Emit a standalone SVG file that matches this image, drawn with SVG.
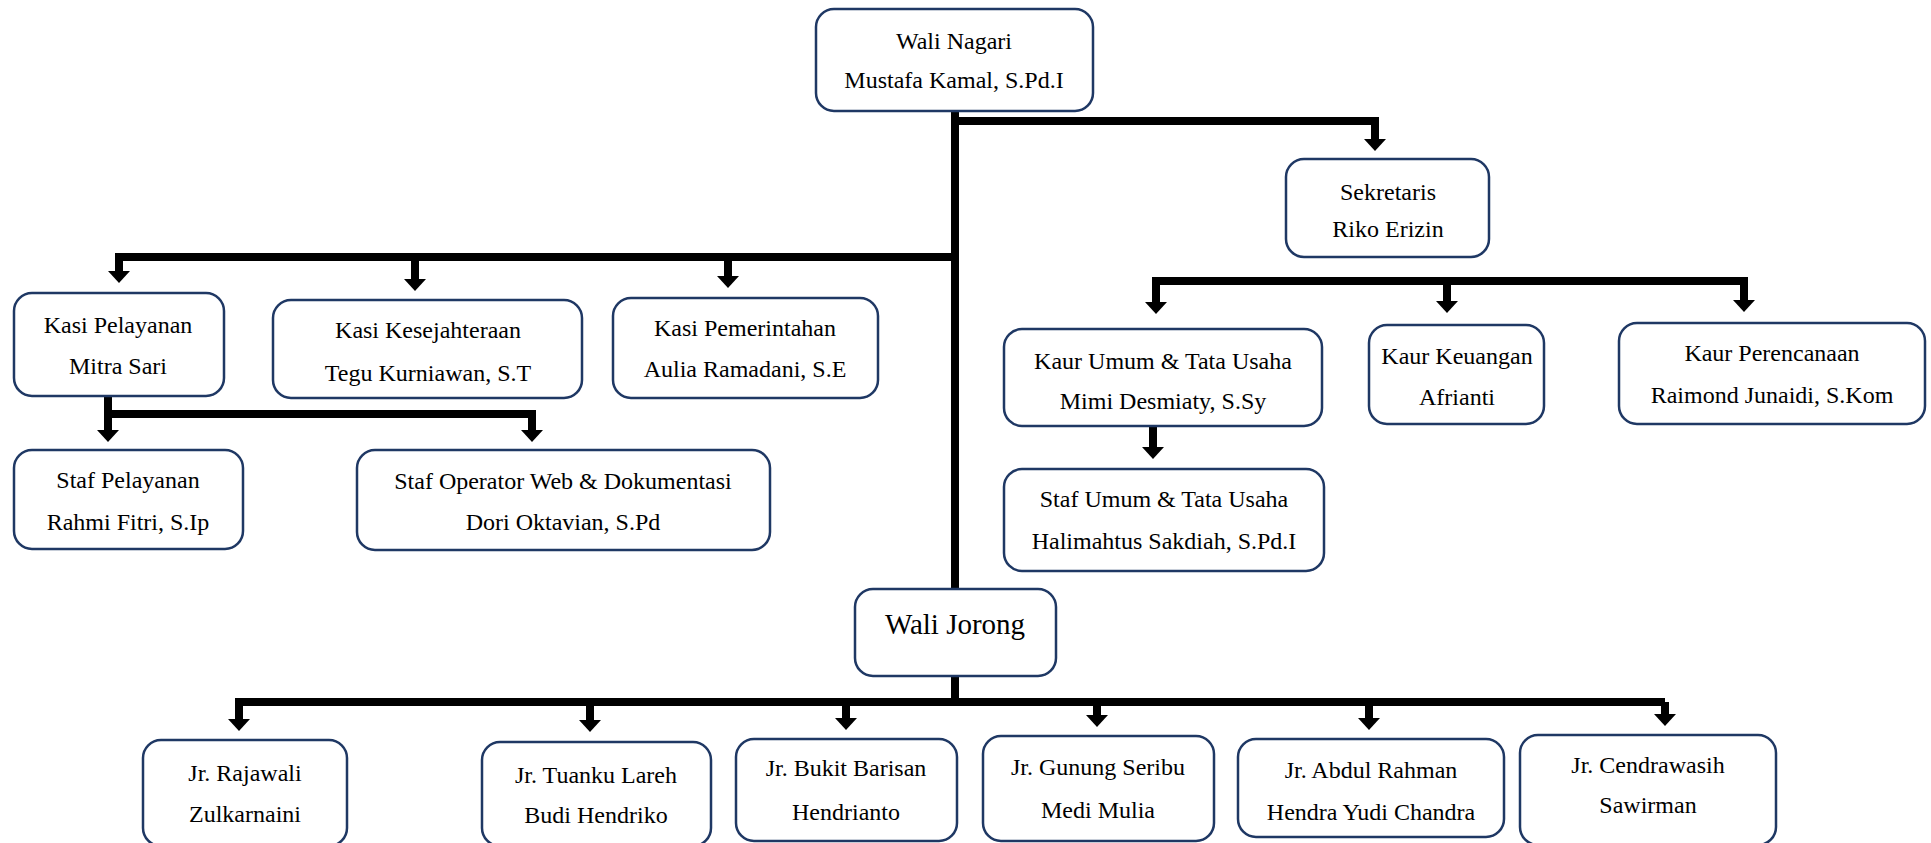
<svg xmlns="http://www.w3.org/2000/svg" width="1931" height="843" viewBox="0 0 1931 843">
<style>
.box{fill:#fff;stroke:#1f3864;stroke-width:2.5}
text{font-family:"Liberation Serif","Times New Roman",serif;font-size:24px;fill:#000;text-anchor:middle}
.big{font-size:29px}
.ln{fill:none;stroke:#000;stroke-width:8;stroke-linejoin:miter;stroke-linecap:butt}
</style>
<defs>
<marker id="ah" markerUnits="userSpaceOnUse" markerWidth="14" markerHeight="24" viewBox="0 -12 14 24" refX="0" refY="0" orient="auto">
<path d="M0,-11 L12,0 L0,11 Z" fill="#000"/>
</marker>
</defs>
<rect width="1931" height="843" fill="#fff"/>
<g id="connectors">
<path class="ln" d="M955,111 V589"/>
<path class="ln" d="M955,676 V702"/>
<path class="ln" d="M955,121 H1375 V139" marker-end="url(#ah)"/>
<path class="ln" d="M955,257 H119 V271" marker-end="url(#ah)"/>
<path class="ln" d="M415,257 V279" marker-end="url(#ah)"/>
<path class="ln" d="M728,257 V276" marker-end="url(#ah)"/>
<path class="ln" d="M108,396 V430" marker-end="url(#ah)"/>
<path class="ln" d="M108,414 H532 V430" marker-end="url(#ah)"/>
<path class="ln" d="M1152,281 H1744 V300" marker-end="url(#ah)"/>
<path class="ln" d="M1156,281 V302" marker-end="url(#ah)"/>
<path class="ln" d="M1447,281 V301" marker-end="url(#ah)"/>
<path class="ln" d="M1153,426 V447" marker-end="url(#ah)"/>
<path class="ln" d="M1665,702 H239 V719" marker-end="url(#ah)"/>
<path class="ln" d="M590,702 V720" marker-end="url(#ah)"/>
<path class="ln" d="M846,702 V718" marker-end="url(#ah)"/>
<path class="ln" d="M1097,702 V715" marker-end="url(#ah)"/>
<path class="ln" d="M1369,702 V718" marker-end="url(#ah)"/>
<path class="ln" d="M1665,702 V714" marker-end="url(#ah)"/>
</g>
<g id="wali-nagari"><rect class="box" x="816" y="9" width="277" height="102" rx="18"/><text x="954" y="49">Wali Nagari</text><text x="954" y="88">Mustafa Kamal, S.Pd.I</text></g>
<g id="sekretaris"><rect class="box" x="1286" y="159" width="203" height="98" rx="18"/><text x="1388" y="200">Sekretaris</text><text x="1388" y="237">Riko Erizin</text></g>
<g id="kasi-pelayanan"><rect class="box" x="14" y="293" width="210" height="103" rx="18"/><text x="118" y="333">Kasi Pelayanan</text><text x="118" y="374">Mitra Sari</text></g>
<g id="kasi-kesejahteraan"><rect class="box" x="273" y="300" width="309" height="98" rx="18"/><text x="428" y="338">Kasi Kesejahteraan</text><text x="428" y="381">Tegu Kurniawan, S.T</text></g>
<g id="kasi-pemerintahan"><rect class="box" x="613" y="298" width="265" height="100" rx="18"/><text x="745" y="336">Kasi Pemerintahan</text><text x="745" y="377">Aulia Ramadani, S.E</text></g>
<g id="staf-pelayanan"><rect class="box" x="14" y="450" width="229" height="99" rx="18"/><text x="128" y="488">Staf Pelayanan</text><text x="128" y="530">Rahmi Fitri, S.Ip</text></g>
<g id="staf-operator"><rect class="box" x="357" y="450" width="413" height="100" rx="18"/><text x="563" y="489">Staf Operator Web &amp; Dokumentasi</text><text x="563" y="530">Dori Oktavian, S.Pd</text></g>
<g id="kaur-umum"><rect class="box" x="1004" y="329" width="318" height="97" rx="18"/><text x="1163" y="369">Kaur Umum &amp; Tata Usaha</text><text x="1163" y="409">Mimi Desmiaty, S.Sy</text></g>
<g id="kaur-keuangan"><rect class="box" x="1369" y="325" width="175" height="99" rx="18"/><text x="1457" y="364">Kaur Keuangan</text><text x="1457" y="405">Afrianti</text></g>
<g id="kaur-perencanaan"><rect class="box" x="1619" y="323" width="306" height="101" rx="18"/><text x="1772" y="361">Kaur Perencanaan</text><text x="1772" y="403">Raimond Junaidi, S.Kom</text></g>
<g id="staf-umum"><rect class="box" x="1004" y="469" width="320" height="102" rx="18"/><text x="1164" y="507">Staf Umum &amp; Tata Usaha</text><text x="1164" y="549">Halimahtus Sakdiah, S.Pd.I</text></g>
<g id="wali-jorong"><rect class="box" x="855" y="589" width="201" height="87" rx="18"/><text class="big" x="955" y="634">Wali Jorong</text></g>
<g id="jr-rajawali"><rect class="box" x="143" y="740" width="204" height="106" rx="18"/><text x="245" y="781">Jr. Rajawali</text><text x="245" y="822">Zulkarnaini</text></g>
<g id="jr-tuanku-lareh"><rect class="box" x="482" y="742" width="229" height="104" rx="18"/><text x="596" y="783">Jr. Tuanku Lareh</text><text x="596" y="823">Budi Hendriko</text></g>
<g id="jr-bukit-barisan"><rect class="box" x="736" y="739" width="221" height="102" rx="18"/><text x="846" y="776">Jr. Bukit Barisan</text><text x="846" y="820">Hendrianto</text></g>
<g id="jr-gunung-seribu"><rect class="box" x="983" y="736" width="231" height="105" rx="18"/><text x="1098" y="775">Jr. Gunung Seribu</text><text x="1098" y="818">Medi Mulia</text></g>
<g id="jr-abdul-rahman"><rect class="box" x="1238" y="739" width="266" height="98" rx="18"/><text x="1371" y="778">Jr. Abdul Rahman</text><text x="1371" y="820">Hendra Yudi Chandra</text></g>
<g id="jr-cendrawasih"><rect class="box" x="1520" y="735" width="256" height="110" rx="18"/><text x="1648" y="773">Jr. Cendrawasih</text><text x="1648" y="813">Sawirman</text></g>
</svg>
